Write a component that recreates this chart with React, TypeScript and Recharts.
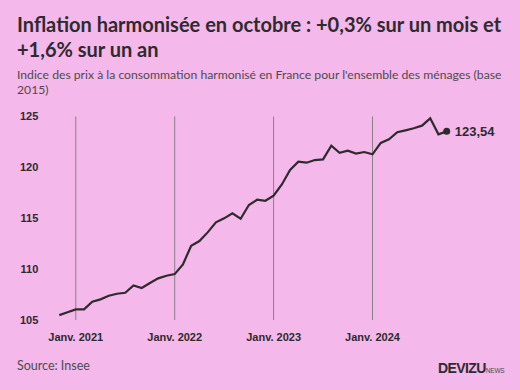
import { LineChart, Line, XAxis, YAxis, ReferenceLine, LabelList } from "recharts";

// Indice des prix harmonisé, France, nov. 2020 -> oct. 2024
const startYear = 2020;
const startMonth = 11;
const values = [
  105.48, 105.76,
  106.04, 106.04, 106.79, 107.03, 107.38, 107.58, 107.68, 108.4, 108.14, 108.63, 109.09, 109.35,
  109.51, 110.47, 112.3, 112.76, 113.61, 114.6, 114.99, 115.48, 114.95, 116.3, 116.82, 116.72,
  117.21, 118.32, 119.74, 120.56, 120.46, 120.72, 120.79, 122.13, 121.44, 121.64, 121.35, 121.51,
  121.28, 122.4, 122.76, 123.45, 123.64, 123.84, 124.1, 124.82, 123.25, 123.54,
];
const xTicks = [2, 14, 26, 38];
const xTickLabels = ["Janv. 2021", "Janv. 2022", "Janv. 2023", "Janv. 2024"];
const yTicks = [105, 110, 115, 120, 125];

const data = values.map((v, i) => {
  const m = startMonth - 1 + i;
  return {
    i,
    month: `${startYear + Math.floor(m / 12)}-${String((m % 12) + 1).padStart(2, "0")}`,
    value: v,
  };
});

const lastIndex = values.length - 1;
const dark = "#2e2a2d";
const grey = "#4f4a4e";
const tickFont = "'Liberation Sans', Arial, sans-serif";

const EndDot = (props: any) => {
  const { cx, cy, index } = props;
  if (index !== lastIndex) return <g key={`d${index}`} />;
  return <circle key={`d${index}`} cx={cx} cy={cy} r={3.5} fill={dark} />;
};

const EndLabel = (props: any) => {
  const { x, y, index, value } = props;
  if (index !== lastIndex) return null;
  return (
    <text x={x + 8} y={y} dy="0.36em" fill={dark} fontSize={13} fontWeight={700} fontFamily={tickFont}>
      {String(value).replace(".", ",")}
    </text>
  );
};

export default function App() {
  return (
    <div
      style={{
        position: "absolute",
        left: 0,
        top: 0,
        width: 520,
        height: 390,
        background: "#f4b8ea",
        overflow: "hidden",
        fontFamily: "Lato, sans-serif",
      }}
    >
      <div
        style={{
          position: "absolute",
          left: 17,
          top: 12,
          width: 500,
          fontSize: 20,
          lineHeight: "25px",
          fontWeight: 700,
          color: dark,
        }}
      >
        Inflation harmonisée en octobre : +0,3% sur un mois et +1,6% sur un an
      </div>
      <div
        style={{
          position: "absolute",
          left: 17,
          top: 67,
          width: 500,
          fontSize: 12.2,
          lineHeight: "15px",
          color: grey,
        }}
      >
        Indice des prix à la consommation harmonisé en France pour l'ensemble des ménages (base 2015)
      </div>

      <div style={{ position: "absolute", left: 0, top: 0 }}>
        <LineChart
          width={520}
          height={390}
          data={data}
          margin={{ top: 116.5, right: 73.3, bottom: 40, left: 0 }}
        >
          <XAxis
            dataKey="i"
            type="number"
            domain={[0, lastIndex]}
            ticks={xTicks}
            tickFormatter={(v: number) => xTickLabels[xTicks.indexOf(v)] ?? ""}
            axisLine={false}
            tickLine={false}
            tickSize={0}
            tickMargin={13}
            height={30}
            interval={0}
            tick={{ fill: dark, fontSize: 11, fontWeight: 700, fontFamily: tickFont }}
          />
          <YAxis
            domain={[105, 125]}
            ticks={yTicks}
            axisLine={false}
            tickLine={false}
            tickSize={0}
            tickMargin={21}
            width={59.3}
            interval={0}
            tick={{ fill: dark, fontSize: 11, fontWeight: 700, fontFamily: tickFont }}
          />
          {xTicks.map((t) => (
            <ReferenceLine key={t} x={t} stroke="#8a7f88" strokeWidth={1} />
          ))}
          <Line
            type="linear"
            dataKey="value"
            stroke={dark}
            strokeWidth={2.2}
            dot={EndDot}
            activeDot={false}
            isAnimationActive={false}
          >
            <LabelList dataKey="value" content={EndLabel} />
          </Line>
        </LineChart>
      </div>

      <div style={{ position: "absolute", left: 17, top: 358, fontSize: 12.5, color: grey }}>
        Source: Insee
      </div>
      <div
        style={{
          position: "absolute",
          left: 438,
          top: 359,
          fontFamily: tickFont,
          color: dark,
          whiteSpace: "nowrap",
        }}
      >
        <span style={{ fontSize: 14, fontWeight: 700, letterSpacing: -0.6 }}>DEVIZU</span>
        <span style={{ fontSize: 6.5, letterSpacing: -0.2, color: grey }}>NEWS</span>
      </div>
    </div>
  );
}
